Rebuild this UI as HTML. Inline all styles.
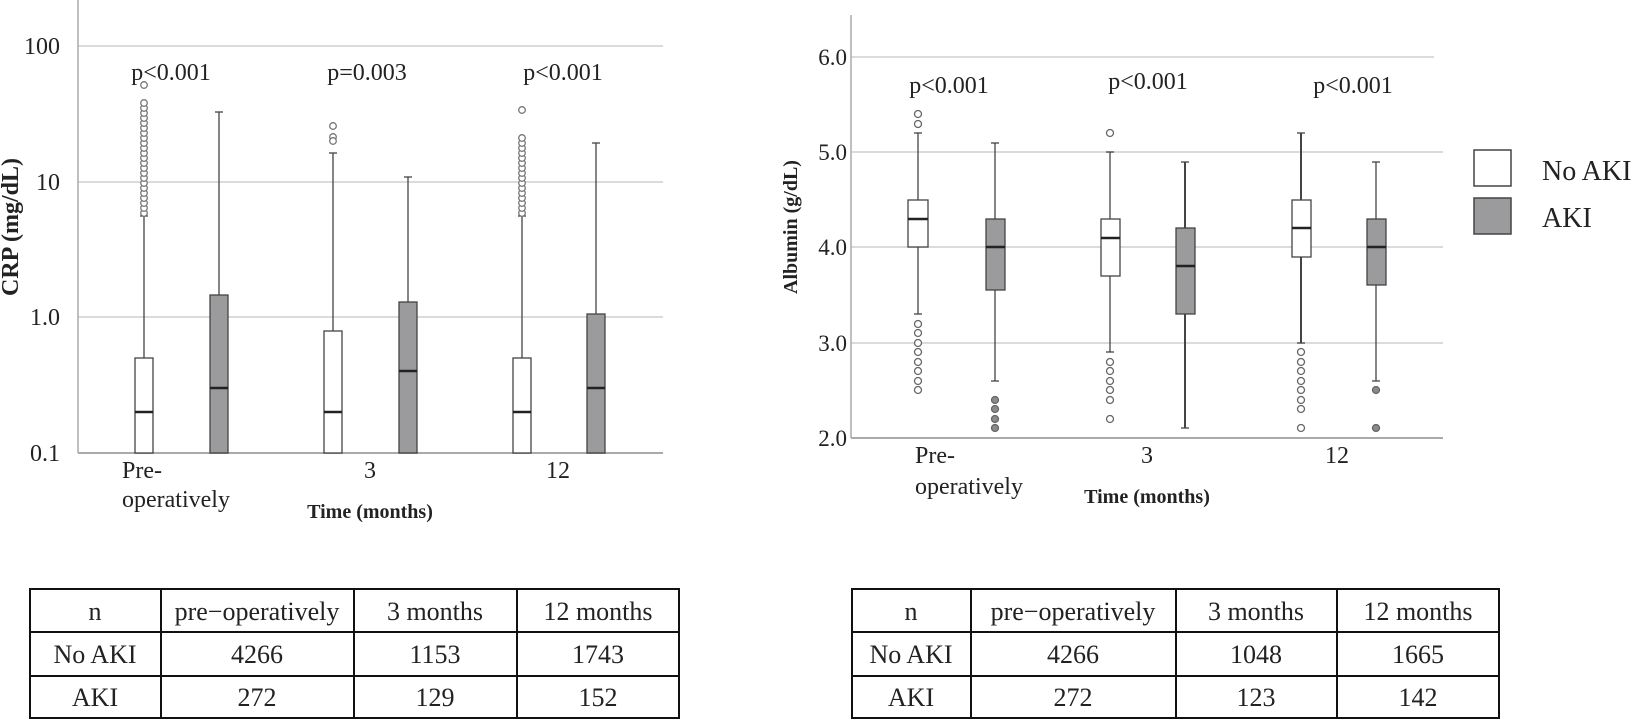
<!DOCTYPE html>
<html><head><meta charset="utf-8"><style>
html,body{margin:0;padding:0;background:#fff;}
svg{display:block;font-family:"Liberation Serif",serif;}
</style></head><body>
<svg width="1646" height="720" viewBox="0 0 1646 720" xmlns="http://www.w3.org/2000/svg">
<!-- LEFT CHART -->
<g stroke="#cfcfcf" stroke-width="1.5">
<line x1="78" y1="46" x2="663" y2="46"/>
<line x1="78" y1="182" x2="663" y2="182"/>
<line x1="78" y1="317" x2="663" y2="317"/>
</g>
<line x1="78" y1="0" x2="78" y2="453" stroke="#aaa" stroke-width="1.5"/>
<line x1="78" y1="453" x2="663" y2="453" stroke="#aaa" stroke-width="2"/>
<g font-size="24" text-anchor="end" fill="#222">
<text x="60" y="54">100</text>
<text x="60" y="190">10</text>
<text x="60" y="325">1.0</text>
<text x="60" y="461">0.1</text>
</g>
<text transform="translate(18,227) rotate(-90)" font-size="24" font-weight="bold" text-anchor="middle" fill="#222">CRP (mg/dL)</text>
<g font-size="24" text-anchor="middle" fill="#222">
<text x="171" y="80">p&lt;0.001</text>
<text x="367" y="80">p=0.003</text>
<text x="563" y="80">p&lt;0.001</text>
</g>
<g stroke="#444" stroke-width="1.3">
<line x1="144" y1="216" x2="144" y2="358"/><line x1="140" y1="216" x2="148" y2="216"/>
<line x1="219" y1="112" x2="219" y2="295"/><line x1="215" y1="112" x2="223" y2="112"/>
<line x1="333" y1="153" x2="333" y2="331"/><line x1="329" y1="153" x2="337" y2="153"/>
<line x1="408" y1="177" x2="408" y2="302"/><line x1="404" y1="177" x2="412" y2="177"/>
<line x1="522" y1="216" x2="522" y2="358"/><line x1="518" y1="216" x2="526" y2="216"/>
<line x1="596" y1="143" x2="596" y2="314"/><line x1="592" y1="143" x2="600" y2="143"/>
</g>
<g stroke="#444" stroke-width="1.3">
<rect x="135" y="358" width="18" height="95" fill="#fff"/>
<rect x="210" y="295" width="18" height="158" fill="#9b9b9d"/>
<rect x="324" y="331" width="18" height="122" fill="#fff"/>
<rect x="399" y="302" width="18" height="151" fill="#9b9b9d"/>
<rect x="513" y="358" width="18" height="95" fill="#fff"/>
<rect x="587" y="314" width="18" height="139" fill="#9b9b9d"/>
</g>
<g stroke="#222" stroke-width="2.5">
<line x1="135" y1="412" x2="153" y2="412"/>
<line x1="210" y1="388" x2="228" y2="388"/>
<line x1="324" y1="412" x2="342" y2="412"/>
<line x1="399" y1="371" x2="417" y2="371"/>
<line x1="513" y1="412" x2="531" y2="412"/>
<line x1="587" y1="388" x2="605" y2="388"/>
</g>
<g fill="#fff" stroke="#777" stroke-width="1.3">
<circle cx="144" cy="213" r="3.3"/><circle cx="144" cy="208" r="3.3"/><circle cx="144" cy="203" r="3.3"/><circle cx="144" cy="198" r="3.3"/><circle cx="144" cy="193" r="3.3"/><circle cx="144" cy="188" r="3.3"/><circle cx="144" cy="183" r="3.3"/><circle cx="144" cy="178" r="3.3"/><circle cx="144" cy="173" r="3.3"/><circle cx="144" cy="168" r="3.3"/><circle cx="144" cy="163" r="3.3"/><circle cx="144" cy="158" r="3.3"/><circle cx="144" cy="153" r="3.3"/><circle cx="144" cy="148" r="3.3"/><circle cx="144" cy="143" r="3.3"/><circle cx="144" cy="138" r="3.3"/><circle cx="144" cy="133" r="3.3"/><circle cx="144" cy="128" r="3.3"/><circle cx="144" cy="123" r="3.3"/><circle cx="144" cy="118" r="3.3"/><circle cx="144" cy="113" r="3.3"/><circle cx="144" cy="108" r="3.3"/><circle cx="144" cy="103" r="3.3"/><circle cx="144" cy="85" r="3.3"/>
<circle cx="333" cy="126" r="3.3"/><circle cx="333" cy="137" r="3.3"/><circle cx="333" cy="141" r="3.3"/>
<circle cx="522" cy="213" r="3.3"/><circle cx="522" cy="208" r="3.3"/><circle cx="522" cy="203" r="3.3"/><circle cx="522" cy="198" r="3.3"/><circle cx="522" cy="193" r="3.3"/><circle cx="522" cy="188" r="3.3"/><circle cx="522" cy="183" r="3.3"/><circle cx="522" cy="178" r="3.3"/><circle cx="522" cy="173" r="3.3"/><circle cx="522" cy="168" r="3.3"/><circle cx="522" cy="163" r="3.3"/><circle cx="522" cy="158" r="3.3"/><circle cx="522" cy="153" r="3.3"/><circle cx="522" cy="148" r="3.3"/><circle cx="522" cy="143" r="3.3"/><circle cx="522" cy="138" r="3.3"/><circle cx="522" cy="110" r="3.3"/>
</g>
<g font-size="24" fill="#222">
<text x="122" y="478">Pre-</text>
<text x="122" y="507">operatively</text>
<text x="370" y="478" text-anchor="middle">3</text>
<text x="558" y="478" text-anchor="middle">12</text>
</g>
<text x="370" y="518" font-size="20" font-weight="bold" text-anchor="middle" fill="#222">Time (months)</text>

<!-- RIGHT CHART -->
<g stroke="#cfcfcf" stroke-width="1.5">
<line x1="851" y1="57" x2="1434" y2="57"/>
<line x1="851" y1="152" x2="1443" y2="152"/>
<line x1="851" y1="247" x2="1443" y2="247"/>
<line x1="851" y1="343" x2="1443" y2="343"/>
</g>
<line x1="851" y1="15" x2="851" y2="438" stroke="#aaa" stroke-width="1.5"/>
<line x1="851" y1="438" x2="1443" y2="438" stroke="#aaa" stroke-width="2"/>
<g font-size="23" text-anchor="end" fill="#222">
<text x="847" y="65">6.0</text>
<text x="847" y="160">5.0</text>
<text x="847" y="255">4.0</text>
<text x="847" y="351">3.0</text>
<text x="847" y="446">2.0</text>
</g>
<text transform="translate(797,227) rotate(-90)" font-size="20" font-weight="bold" text-anchor="middle" fill="#222">Albumin (g/dL)</text>
<g font-size="24" text-anchor="middle" fill="#222">
<text x="949" y="93">p&lt;0.001</text>
<text x="1148" y="89">p&lt;0.001</text>
<text x="1353" y="93">p&lt;0.001</text>
</g>
<g stroke="#444" stroke-width="1.3">
<line x1="918" y1="133" x2="918" y2="314"/><line x1="914" y1="133" x2="922" y2="133"/><line x1="914" y1="314" x2="922" y2="314"/>
<line x1="995" y1="143" x2="995" y2="381"/><line x1="991" y1="143" x2="999" y2="143"/><line x1="991" y1="381" x2="999" y2="381"/>
<line x1="1110" y1="152" x2="1110" y2="352"/><line x1="1106" y1="152" x2="1114" y2="152"/><line x1="1106" y1="352" x2="1114" y2="352"/>
<line x1="1185" y1="162" x2="1185" y2="428" stroke-width="2"/><line x1="1181" y1="162" x2="1189" y2="162"/><line x1="1181" y1="428" x2="1189" y2="428"/>
<line x1="1301" y1="133" x2="1301" y2="343" stroke-width="2"/><line x1="1297" y1="133" x2="1305" y2="133"/><line x1="1297" y1="343" x2="1305" y2="343"/>
<line x1="1376" y1="162" x2="1376" y2="381"/><line x1="1372" y1="162" x2="1380" y2="162"/><line x1="1372" y1="381" x2="1380" y2="381"/>
</g>
<g stroke="#444" stroke-width="1.3">
<rect x="908" y="200" width="20" height="47" fill="#fff"/>
<rect x="986" y="219" width="19" height="71" fill="#9b9b9d"/>
<rect x="1101" y="219" width="19" height="57" fill="#fff"/>
<rect x="1176" y="228" width="19" height="86" fill="#9b9b9d"/>
<rect x="1292" y="200" width="19" height="57" fill="#fff"/>
<rect x="1367" y="219" width="19" height="66" fill="#9b9b9d"/>
</g>
<g stroke="#222" stroke-width="2.5">
<line x1="908" y1="219" x2="928" y2="219"/>
<line x1="986" y1="247" x2="1005" y2="247"/>
<line x1="1101" y1="238" x2="1120" y2="238"/>
<line x1="1176" y1="266" x2="1195" y2="266"/>
<line x1="1292" y1="228" x2="1311" y2="228"/>
<line x1="1367" y1="247" x2="1386" y2="247"/>
</g>
<g fill="#fff" stroke="#666" stroke-width="1.3">
<circle cx="918" cy="114" r="3.5"/><circle cx="918" cy="124" r="3.5"/>
<circle cx="918" cy="324" r="3.5"/><circle cx="918" cy="333" r="3.5"/><circle cx="918" cy="343" r="3.5"/><circle cx="918" cy="352" r="3.5"/><circle cx="918" cy="362" r="3.5"/><circle cx="918" cy="371" r="3.5"/><circle cx="918" cy="381" r="3.5"/><circle cx="918" cy="390" r="3.5"/>
<circle cx="1110" cy="133" r="3.5"/>
<circle cx="1110" cy="362" r="3.5"/><circle cx="1110" cy="371" r="3.5"/><circle cx="1110" cy="381" r="3.5"/><circle cx="1110" cy="390" r="3.5"/><circle cx="1110" cy="400" r="3.5"/><circle cx="1110" cy="419" r="3.5"/>
<circle cx="1301" cy="352" r="3.5"/><circle cx="1301" cy="362" r="3.5"/><circle cx="1301" cy="371" r="3.5"/><circle cx="1301" cy="381" r="3.5"/><circle cx="1301" cy="390" r="3.5"/><circle cx="1301" cy="400" r="3.5"/><circle cx="1301" cy="409" r="3.5"/><circle cx="1301" cy="428" r="3.5"/>
</g>
<g fill="#8a8a8a" stroke="#666" stroke-width="1.3">
<circle cx="995" cy="400" r="3.5"/><circle cx="995" cy="409" r="3.5"/><circle cx="995" cy="419" r="3.5"/><circle cx="995" cy="428" r="3.5"/>
<circle cx="1376" cy="390" r="3.5"/><circle cx="1376" cy="428" r="3.5"/>
</g>
<g font-size="24" fill="#222">
<text x="915" y="463">Pre-</text>
<text x="915" y="494">operatively</text>
<text x="1147" y="463" text-anchor="middle">3</text>
<text x="1337" y="463" text-anchor="middle">12</text>
</g>
<text x="1147" y="503" font-size="20" font-weight="bold" text-anchor="middle" fill="#222">Time (months)</text>
<rect x="1474" y="150" width="37" height="36" fill="#fff" stroke="#444" stroke-width="1.5"/>
<rect x="1474" y="198" width="37" height="36" fill="#9b9b9d" stroke="#444" stroke-width="1.5"/>
<g font-size="28" fill="#222">
<text x="1542" y="180">No AKI</text>
<text x="1542" y="227">AKI</text>
</g>

<!-- TABLES -->
<g stroke="#111" stroke-width="2" fill="none">
<rect x="30" y="589" width="649" height="129"/>
<line x1="30" y1="632" x2="679" y2="632"/><line x1="30" y1="676" x2="679" y2="676"/>
<line x1="161" y1="589" x2="161" y2="718"/><line x1="354" y1="589" x2="354" y2="718"/><line x1="517" y1="589" x2="517" y2="718"/>
<rect x="852" y="589" width="647" height="129"/>
<line x1="852" y1="632" x2="1499" y2="632"/><line x1="852" y1="676" x2="1499" y2="676"/>
<line x1="971" y1="589" x2="971" y2="718"/><line x1="1176" y1="589" x2="1176" y2="718"/><line x1="1337" y1="589" x2="1337" y2="718"/>
</g>
<g font-size="26" fill="#222" text-anchor="middle">
<text x="95" y="620">n</text><text x="257" y="620">pre−operatively</text><text x="435" y="620">3 months</text><text x="598" y="620">12 months</text>
<text x="95" y="663">No AKI</text><text x="257" y="663">4266</text><text x="435" y="663">1153</text><text x="598" y="663">1743</text>
<text x="95" y="706">AKI</text><text x="257" y="706">272</text><text x="435" y="706">129</text><text x="598" y="706">152</text>
<text x="911" y="620">n</text><text x="1073" y="620">pre−operatively</text><text x="1256" y="620">3 months</text><text x="1418" y="620">12 months</text>
<text x="911" y="663">No AKI</text><text x="1073" y="663">4266</text><text x="1256" y="663">1048</text><text x="1418" y="663">1665</text>
<text x="911" y="706">AKI</text><text x="1073" y="706">272</text><text x="1256" y="706">123</text><text x="1418" y="706">142</text>
</g>
</svg>
</body></html>
